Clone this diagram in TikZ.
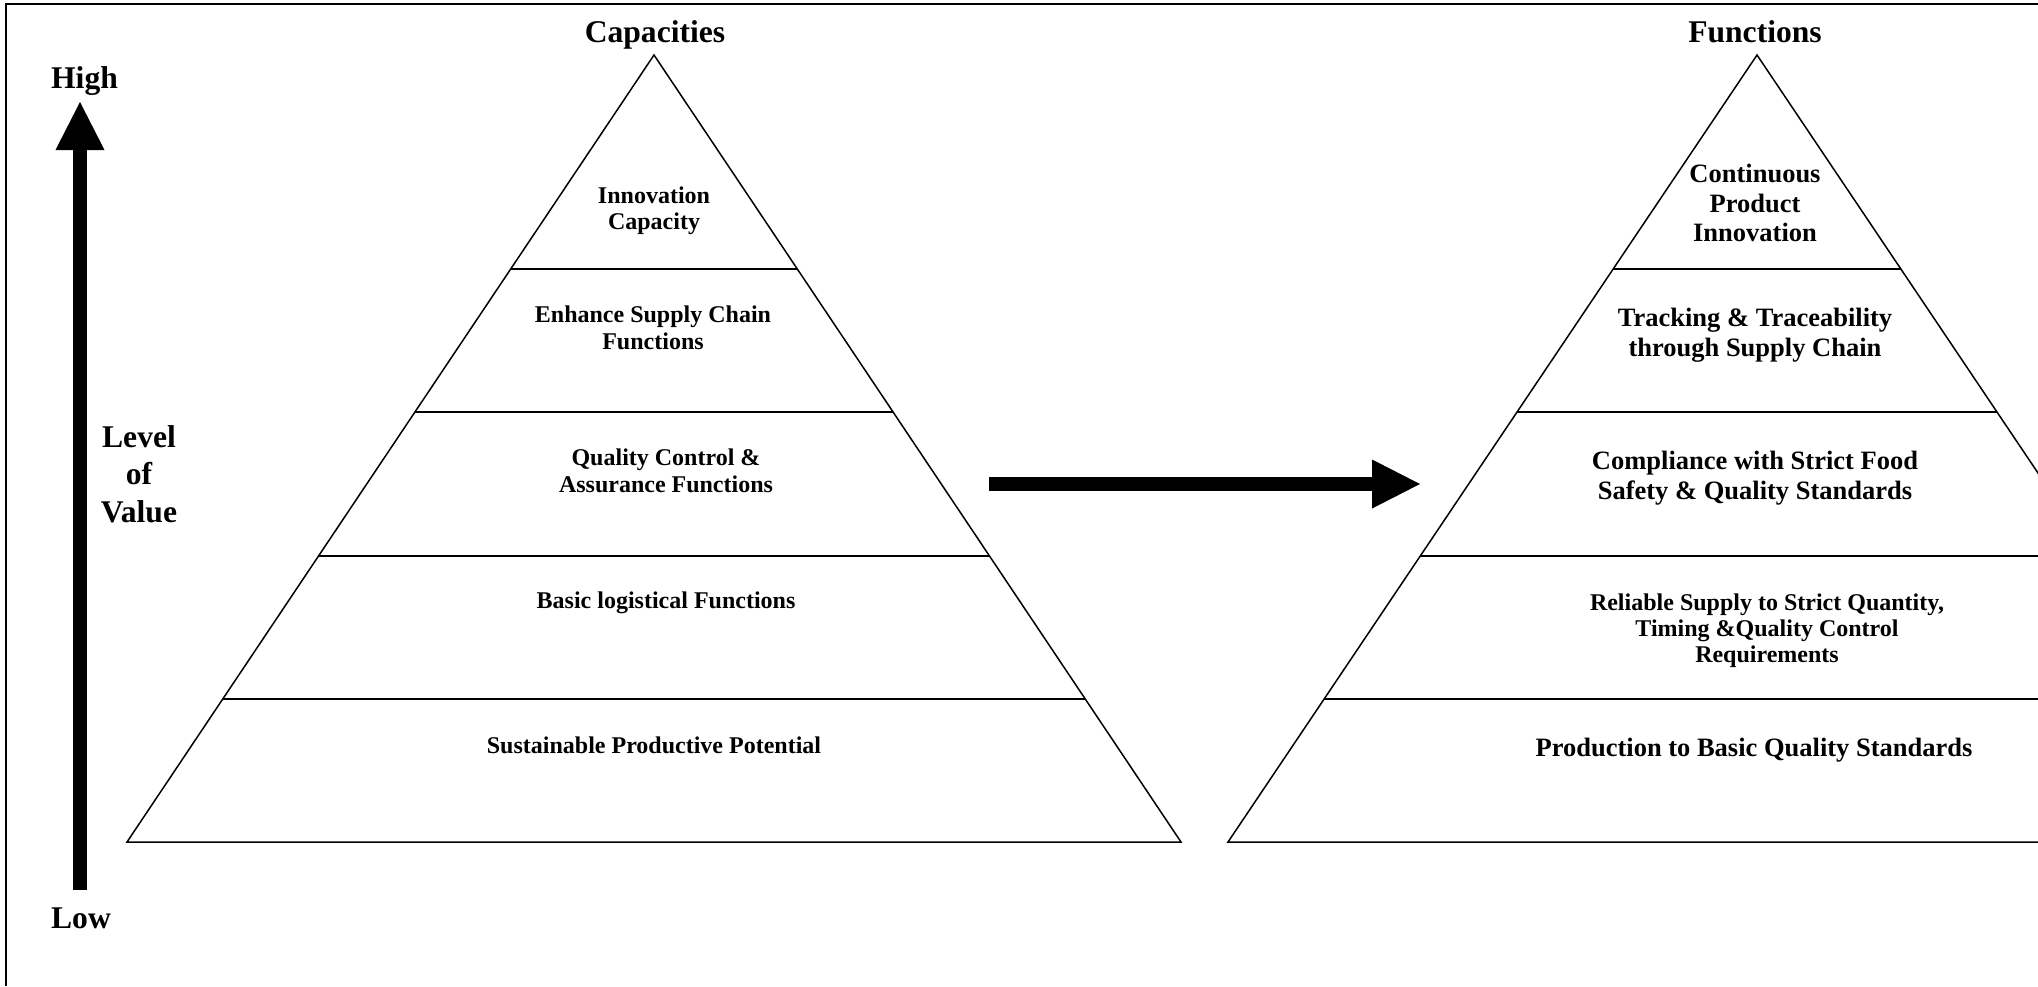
\documentclass[tikz,border=0pt]{standalone}
\usepackage{fontspec}
\setmainfont{Liberation Serif}
\usetikzlibrary{calc,arrows.meta}
\tikzset{
  frameline/.style={line width=1pt},
  pyr/.style={draw, line width=0.75pt, line join=miter},
  lvl/.style={line width=0.75pt},
  blockarrow/.style={line width=7pt, -{Triangle[length=24pt,width=24.5pt,line width=0pt]}},
  ttl/.style={font=\fontsize{15.8}{18.75}\selectfont\bfseries, inner sep=0pt, align=center},
  ltxt/.style={font=\fontsize{12}{13.25}\selectfont\bfseries, inner sep=0pt, align=center},
  rtxt/.style={font=\fontsize{13.25}{14.75}\selectfont\bfseries, inner sep=0pt, align=center},
  stxt/.style={font=\fontsize{12}{13}\selectfont\bfseries, inner sep=0pt, align=center},
}
\begin{document}
\begin{tikzpicture}[x=0.5pt,y=-0.5pt]
\useasboundingbox (0,0) rectangle (2038,986);
\clip (0,0) rectangle (2038,986);
% frame (top and left edges visible)
\coordinate (FB) at (6,986);
\coordinate (FC) at (6,4);
\coordinate (FR) at (2038,4);
\draw[frameline] (FB) -- (FC) -- (FR);

% value axis
\coordinate (upS) at (80,890);
\coordinate (upE) at (80,102);
\draw[blockarrow] (upS) -- (upE);
\node[ttl, anchor=base] (high) at (84.5,88) {High};
\node[ttl, anchor=base] (low) at (81,928) {Low};
\node[ttl] (lov) at (139,474) {Level\\of\\Value};

% left pyramid
\coordinate (LA) at (654,55);
\coordinate (LL) at (127,842);
\coordinate (LR) at (1181,842);
\draw[pyr] (LA) -- (LL) -- (LR) -- cycle;
\foreach \t in {0.2719,0.4536,0.6366,0.8183}
  \draw[lvl] ($(LA)!\t!(LL)$) -- ($(LA)!\t!(LR)$);
\node[ttl, anchor=base] (capT) at (655,42) {Capacities};
\node[ltxt] (c1) at (654,211) {Innovation\\Capacity};
\node[ltxt] (c2) at (653,328) {Enhance Supply Chain\\Functions};
\node[ltxt] (c3) at (666,471) {Quality Control \&\\Assurance Functions};
\node[ltxt, anchor=base] (c4) at (666,608) {Basic logistical Functions};
\node[ltxt, anchor=base] (c5) at (654,753) {Sustainable Productive Potential};

% transition arrow
\coordinate (aS) at (989,484);
\coordinate (aE) at (1420,484);
\draw[blockarrow] (aS) -- (aE);

% right pyramid
\coordinate (RA) at (1757,55);
\coordinate (RL) at (1228,842);
\coordinate (RR) at (2286,842);
\draw[pyr] (RA) -- (RL) -- (RR) -- cycle;
\foreach \t in {0.2719,0.4536,0.6366,0.8183}
  \draw[lvl] ($(RA)!\t!(RL)$) -- ($(RA)!\t!(RR)$);
\node[ttl, anchor=base] (funT) at (1755,42) {Functions};
\node[rtxt] (f1) at (1755,203) {Continuous\\Product\\Innovation};
\node[rtxt] (f2) at (1755,335) {Tracking \& Traceability\\through Supply Chain};
\node[rtxt] (f3) at (1755,478) {Compliance with Strict Food\\Safety \& Quality Standards};
\node[stxt] (f4) at (1767,631) {Reliable Supply to Strict Quantity,\\Timing \&Quality Control\\Requirements};
\node[rtxt, anchor=base] (f5) at (1754,756) {Production to Basic Quality Standards};
\end{tikzpicture}
\end{document}
